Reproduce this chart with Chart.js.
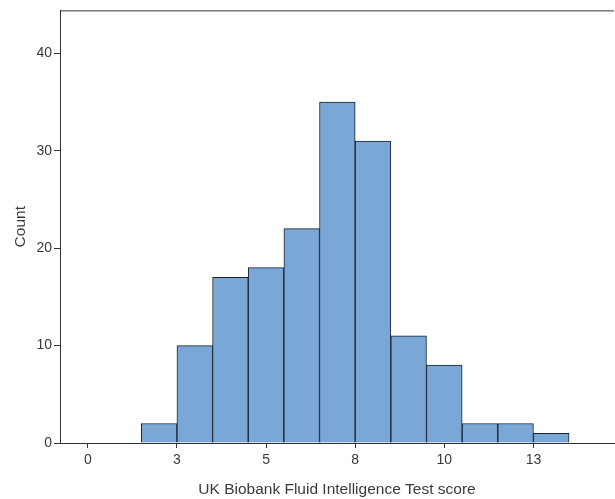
<!DOCTYPE html>
<html>
<head>
<meta charset="utf-8">
<script src="https://cdn.jsdelivr.net/npm/chart.js@4"></script>
<style>
  html, body { margin: 0; padding: 0; background: #fff; }
  #wrap { width: 615px; height: 499px; }
</style>
</head>
<body>
<div id="wrap"><canvas id="histChart" width="615" height="499"></canvas></div>
<script>
// bin centres (integer scores) and counts
const binCenters = [2, 3, 4, 5, 6, 7, 8, 9, 10, 11, 12, 13];
const counts = [2, 10, 17, 18, 22, 35, 31, 11, 8, 2, 2, 1];

// axis ticks as SPSS shows them (2.5 steps, labels rounded)
const xTickValues = [0, 2.5, 5, 7.5, 10, 12.5];
const xTickLabels = ['0', '3', '5', '8', '10', '13'];
const yTickValues = [0, 10, 20, 30, 40];

const axisColor = '#333333';
const textColor = '#3a3a3a';
const fontFamily = '"Liberation Sans", Arial, sans-serif';

// top border of the plot frame
const frameTop = {
    id: 'frameTop',
    afterDraw(chart) {
        const a = chart.chartArea;
        const ctx = chart.ctx;
        ctx.save();
        ctx.strokeStyle = axisColor;
        ctx.lineWidth = 1;
        ctx.beginPath();
        ctx.moveTo(a.left, a.top + 0.5);
        ctx.lineTo(a.right, a.top + 0.5);
        ctx.stroke();
        ctx.restore();
    }
};

const ctx = document.getElementById('histChart').getContext('2d');
new Chart(ctx, {
    type: 'bar',
    data: {
        datasets: [{
            label: 'Count',
            data: binCenters.map((c, i) => ({ x: c, y: counts[i] })),
            backgroundColor: '#7aa7d6',
            borderColor: '#18222d',
            borderWidth: 1,
            barPercentage: 1,
            categoryPercentage: 1
        }]
    },
    options: {
        responsive: false,
        animation: false,
        devicePixelRatio: 1,
        layout: { padding: { top: 8, right: 1, left: 0, bottom: 0 } },
        plugins: { legend: { display: false }, tooltip: { enabled: false } },
        scales: {
            x: {
                type: 'linear',
                min: -0.78,
                max: 14.76,
                offset: false,
                afterFit(scale) { scale.height = 56; },
                afterBuildTicks(scale) { scale.ticks = xTickValues.map(v => ({ value: v })); },
                grid: {
                    offset: false,
                    drawOnChartArea: false,
                    drawTicks: true,
                    tickLength: 5,
                    tickColor: axisColor
                },
                border: { display: true, color: axisColor, width: 1 },
                ticks: {
                    padding: 4,
                    maxRotation: 0,
                    autoSkip: false,
                    color: textColor,
                    font: { family: fontFamily, size: 14 },
                    callback: (v) => xTickLabels[xTickValues.indexOf(v)]
                },
                title: {
                    display: true,
                    text: 'UK Biobank Fluid Intelligence Test score',
                    color: textColor,
                    font: { family: fontFamily, size: 15.5 },
                    padding: { top: 3, bottom: 0 }
                }
            },
            y: {
                min: 0,
                max: 44.4,
                afterFit(scale) { scale.width = 60; },
                afterBuildTicks(scale) { scale.ticks = yTickValues.map(v => ({ value: v })); },
                grid: {
                    drawOnChartArea: false,
                    drawTicks: true,
                    tickLength: 6,
                    tickColor: axisColor
                },
                border: { display: true, color: axisColor, width: 1 },
                ticks: {
                    padding: 2,
                    color: textColor,
                    font: { family: fontFamily, size: 14 }
                },
                title: {
                    display: true,
                    text: 'Count',
                    color: textColor,
                    font: { family: fontFamily, size: 15.5 },
                    padding: { top: 11, bottom: 0 }
                }
            }
        }
    },
    plugins: [frameTop]
});
</script>
</body>
</html>
